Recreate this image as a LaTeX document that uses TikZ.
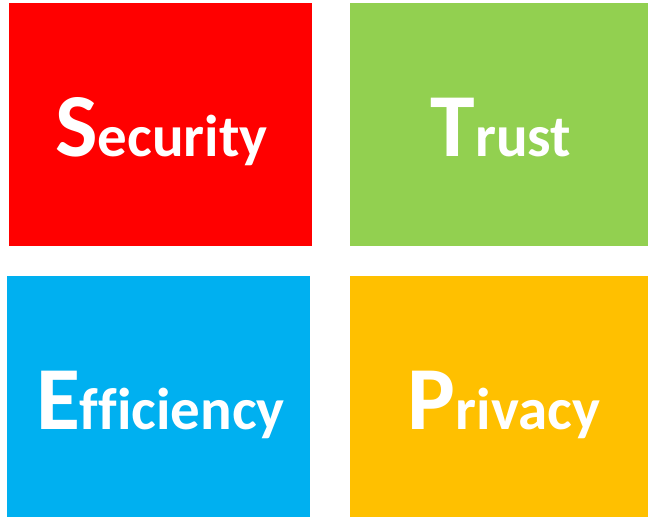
\documentclass[tikz,border=0pt]{standalone}
\usepackage{fontspec}
\usepackage{xcolor}
\usepackage{tikz}
\newfontfamily\calfont[Ligatures=NoCommon]{Carlito}
\definecolor{secred}{HTML}{FF0000}
\definecolor{trugreen}{HTML}{92D050}
\definecolor{effblue}{HTML}{00B0F0}
\definecolor{priyellow}{HTML}{FFC000}
\newcommand{\initial}[1]{{\fontsize{90}{90}\selectfont #1}}

\begin{document}
\begin{tikzpicture}[
    x=1pt, y=1pt,
    tile/.style={rectangle, inner sep=0pt, outer sep=0pt, minimum width=300pt, minimum height=243pt},
    word/.style={anchor=base, inner sep=0pt, text=white, font=\calfont\bfseries\fontsize{59}{60}\selectfont},
]
\useasboundingbox (0,0) rectangle (648,517);

\node[tile, fill=secred, minimum width=303pt] (sec) at (160.5,392.5) {};
\node[tile, fill=trugreen, minimum width=298pt] (tru) at (499,392.5) {};
\node[tile, fill=effblue, minimum width=303pt, minimum height=241pt] (eff) at (158.5,120.5) {};
\node[tile, fill=priyellow, minimum width=298pt, minimum height=241pt] (pri) at (499,120.5) {};

% Labels
\node[word] (secl) at ([xshift=1pt, yshift=-32.5pt]sec.center) {\initial{S}ecurity};
\node[word] (trul) at ([xshift=2pt, yshift=-32.5pt]tru.center) {\initial{T}rust};
\node[word] (effl) at ([xshift=2pt, yshift=-33.5pt]eff.center) {\initial{E}fficiency};
\node[word] (pril) at ([xshift=5pt, yshift=-33.5pt]pri.center) {\initial{P}rivacy};

\end{tikzpicture}
\end{document}
